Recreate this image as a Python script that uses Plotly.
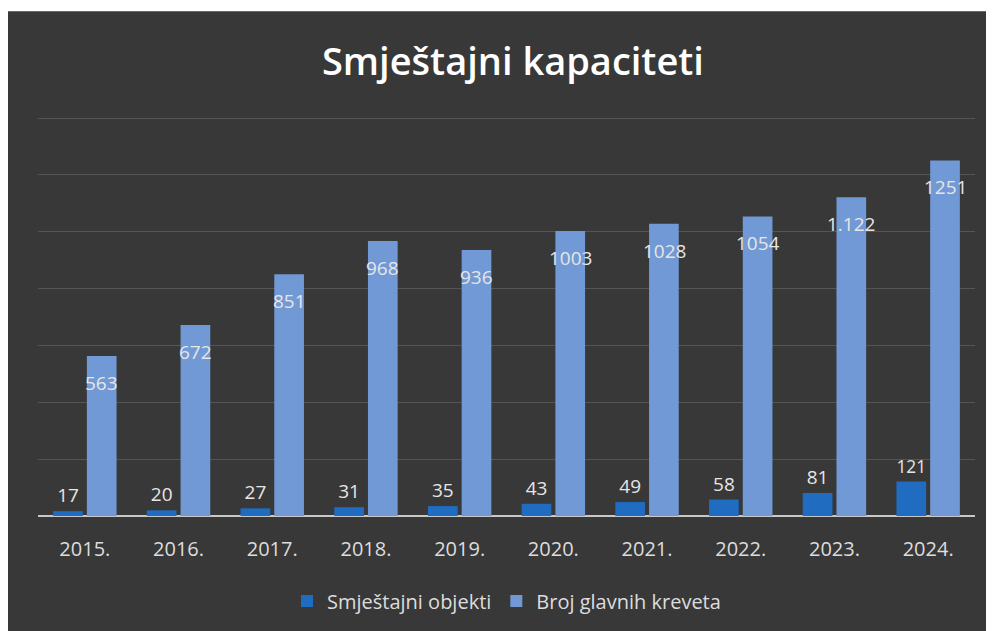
import plotly.graph_objects as go

years = ["2015.", "2016.", "2017.", "2018.", "2019.", "2020.", "2021.", "2022.", "2023.", "2024."]
objekti = [17, 20, 27, 31, 35, 43, 49, 58, 81, 121]
kreveti = [563, 672, 851, 968, 936, 1003, 1028, 1054, 1122, 1251]
kreveti_labels = ["563", "672", "851", "968", "936", "1003", "1028", "1054", "1.122", "1251"]

label_font = dict(family="Open Sans", size=19, color="#e6e6e6")

fig = go.Figure()
fig.add_trace(go.Bar(x=years, y=objekti, name="Smještajni objekti",
                     marker=dict(color="#1f6cc0", line=dict(width=0)),
                     text=[str(v) for v in objekti], textposition="outside",
                     textfont=label_font, cliponaxis=False))
fig.add_trace(go.Bar(x=years, y=kreveti, name="Broj glavnih kreveta",
                     marker=dict(color="#7199d5", line=dict(width=0))))

# labels of the light bars sit a bit lower inside the bar top
# ("2015." reads as a number, so the category index is used for x)
for i, (val, lab) in enumerate(zip(kreveti, kreveti_labels)):
    fig.add_annotation(x=i, y=val, text=lab, showarrow=False, xshift=17, yshift=-27,
                       yanchor="middle", font=label_font)

# dark chart background inside the white scan border
fig.add_shape(type="rect", xref="paper", yref="paper", x0=-0.04, x1=1.06, y0=-0.35, y1=1.265,
              fillcolor="#383838", line=dict(width=0), layer="below")

fig.update_layout(
    width=994, height=631,
    margin=dict(l=30, r=27, t=109, b=123),
    paper_bgcolor="white", plot_bgcolor="rgba(0,0,0,0)",
    barmode="group", bargap=0.28, bargroupgap=0.12,
    title=dict(text="Smještajni kapaciteti", x=0.508, xanchor="center", y=0.915, yanchor="middle",
               font=dict(family="Open Sans", size=38, weight=600, color="white")),
    xaxis=dict(type="category", tickfont=dict(family="Open Sans", size=20, color="#dddddd"),
               showgrid=False, ticks="outside", ticklen=0, ticklabelstandoff=15, showline=False),
    yaxis=dict(range=[0, 1404], dtick=200, showticklabels=False, gridcolor="#555555", gridwidth=1,
               zeroline=True, zerolinecolor="#c8c8c8", zerolinewidth=2),
    legend=dict(orientation="h", x=0.5, xanchor="center", y=-0.213, yanchor="middle",
                font=dict(family="Open Sans", size=20, color="#dddddd"),
                bgcolor="rgba(0,0,0,0)"),
    showlegend=True,
)

fig.write_html("out.html")
